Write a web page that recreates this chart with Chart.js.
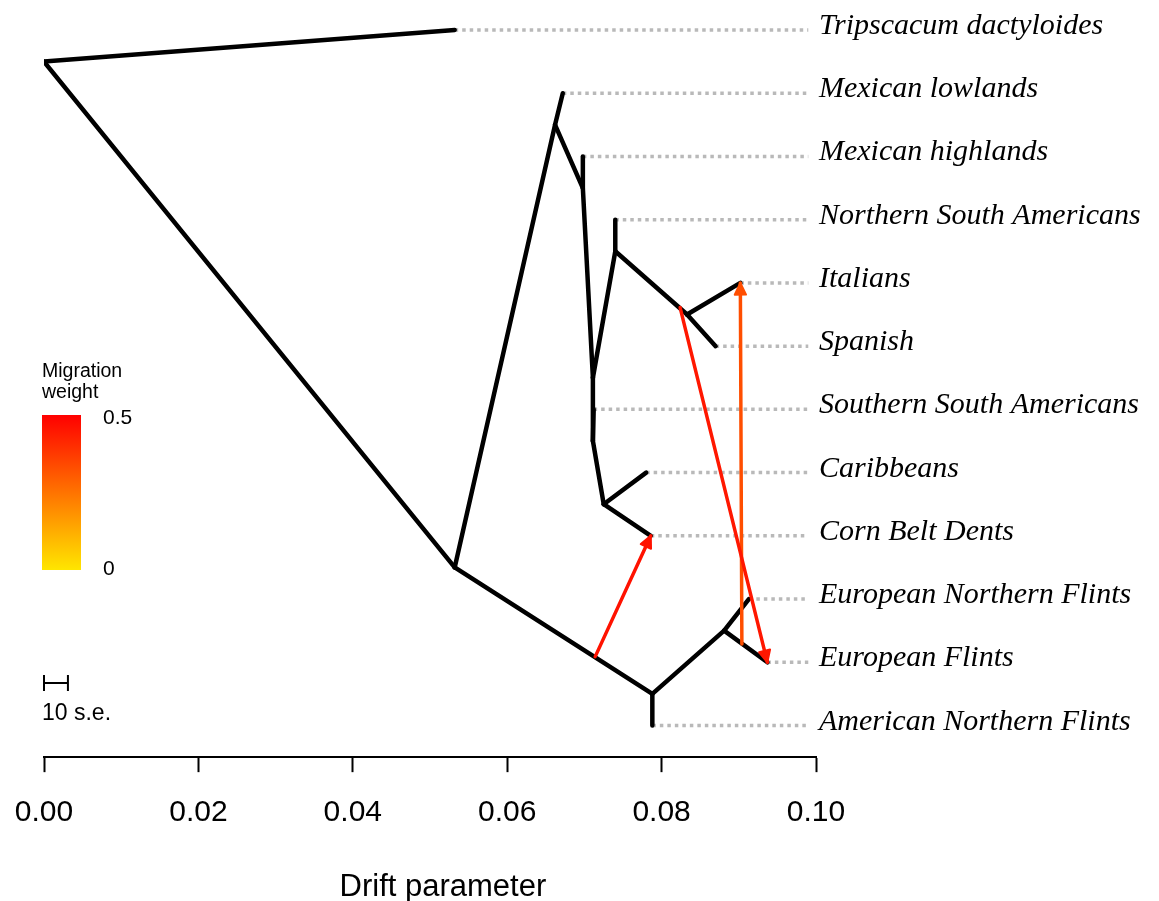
<!DOCTYPE html>
<html>
<head>
<meta charset="utf-8">
<script src="https://cdn.jsdelivr.net/npm/chart.js@4.4.0/dist/chart.umd.min.js"></script>
<style>
  html, body { margin: 0; padding: 0; background: #fff; }
  #wrap { width: 1159px; height: 901px; position: relative; }
</style>
</head>
<body>
<div id="wrap"><canvas id="treeChart"></canvas></div>
<script>
// leaves, top to bottom (row = vertical slot)
const leafNames = [
  "Tripscacum dactyloides", "Mexican lowlands", "Mexican highlands",
  "Northern South Americans", "Italians", "Spanish",
  "Southern South Americans", "Caribbeans", "Corn Belt Dents",
  "European Northern Flints", "European Flints", "American Northern Flints"
];
const leafDrift = [0.0532, 0.0672, 0.0698, 0.0740, 0.0902, 0.0870,
                   0.0712, 0.0780, 0.0786, 0.0913, 0.0937, 0.0788];
const leafRow = [0, 1, 2, 3, 4, 5, 6, 7, 8, 9, 10, 11];

// internal nodes
const nodeNames = ["root", "n1", "n2", "n3", "n4", "n5", "n6", "n7", "n8", "n9", "n10"];
const nodeDrift = [0.0, 0.0532, 0.0662, 0.0698, 0.0711, 0.0740, 0.0833, 0.0711, 0.0725, 0.0788, 0.0881];
const nodeRow = [0.5, 8.5, 1.5, 2.5, 5.5, 3.5, 4.5, 6.5, 7.5, 10.5, 9.5];

// tree branches, parent -> child
const edgeFrom = ["root", "root", "n1", "n2", "n2", "n3", "n3", "n4", "n5", "n5", "n6", "n6",
                  "n4", "n7", "n7", "n8", "n8", "n1", "n9", "n9", "n10", "n10"];
const edgeTo = ["Tripscacum dactyloides", "n1", "n2", "Mexican lowlands", "n3", "Mexican highlands",
                "n4", "n5", "Northern South Americans", "n6", "Italians", "Spanish",
                "n7", "Southern South Americans", "n8", "Caribbeans", "Corn Belt Dents",
                "n9", "American Northern Flints", "n10", "European Northern Flints", "European Flints"];

// migration edges: start on a branch, end at a leaf
const migFromDrift = [0.0714, 0.0824, 0.0904];
const migFromRow = [9.91, 4.39, 9.71];
const migToLeaf = ["Corn Belt Dents", "European Flints", "Italians"];
const migWeight = [0.46, 0.45, 0.33];

const xTickValues = [0, 0.02, 0.04, 0.06, 0.08, 0.10];
const labelEnd = 0.099;

function pos(name) {
  let i = leafNames.indexOf(name);
  if (i >= 0) return { x: leafDrift[i], y: leafRow[i] };
  i = nodeNames.indexOf(name);
  return { x: nodeDrift[i], y: nodeRow[i] };
}

function heat(w) {
  const t = Math.max(0, Math.min(1, w / 0.5));
  return `rgb(255, ${Math.round(230 * (1 - t))}, 0)`;
}

const datasets = [];

// migrations first so they sit on top
migToLeaf.forEach((leaf, i) => {
  const to = pos(leaf);
  datasets.push({
    data: [{ x: migFromDrift[i], y: migFromRow[i] }, to],
    borderColor: heat(migWeight[i]),
    borderWidth: 3.5,
    borderCapStyle: "round"
  });
});

edgeFrom.forEach((p, i) => {
  datasets.push({
    data: [pos(p), pos(edgeTo[i])],
    borderColor: "#000",
    borderWidth: 4.5,
    borderCapStyle: "round",
    borderJoinStyle: "round"
  });
});

leafNames.forEach((name, i) => {
  datasets.push({
    data: [{ x: leafDrift[i], y: leafRow[i] }, { x: labelEnd, y: leafRow[i] }],
    borderColor: "#b9b9b9",
    borderWidth: 3.5,
    borderDash: [3.5, 4]
  });
});

const decorPlugin = {
  id: "decor",
  afterDatasetsDraw(chart) {
    const { ctx, chartArea, scales } = chart;
    const xs = scales.x, ys = scales.y;
    ctx.save();

    // arrow heads
    migToLeaf.forEach((leaf, i) => {
      const to = pos(leaf);
      const x1 = xs.getPixelForValue(migFromDrift[i]), y1 = ys.getPixelForValue(migFromRow[i]);
      const x2 = xs.getPixelForValue(to.x), y2 = ys.getPixelForValue(to.y);
      const a = Math.atan2(y2 - y1, x2 - x1);
      const len = 13, half = Math.PI / 7;
      ctx.fillStyle = heat(migWeight[i]);
      ctx.strokeStyle = heat(migWeight[i]);
      ctx.lineWidth = 2;
      ctx.lineJoin = "round";
      ctx.beginPath();
      ctx.moveTo(x2, y2);
      ctx.lineTo(x2 - len * Math.cos(a - half), y2 - len * Math.sin(a - half));
      ctx.lineTo(x2 - len * Math.cos(a + half), y2 - len * Math.sin(a + half));
      ctx.closePath();
      ctx.fill();
      ctx.stroke();
    });

    // leaf names
    ctx.fillStyle = "#000";
    ctx.font = "italic 30px 'Liberation Serif', 'Times New Roman', serif";
    ctx.textAlign = "left";
    ctx.textBaseline = "alphabetic";
    leafNames.forEach((name, i) => {
      ctx.fillText(name, chartArea.right + 3, ys.getPixelForValue(leafRow[i]) + 4);
    });

    // migration weight legend
    ctx.font = "19.5px 'Liberation Sans', Arial, sans-serif";
    ctx.fillText("Migration", 42, 377);
    ctx.fillText("weight", 42, 398);
    const g = ctx.createLinearGradient(0, 415, 0, 570);
    g.addColorStop(0, heat(0.5));
    g.addColorStop(1, heat(0));
    ctx.fillStyle = g;
    ctx.fillRect(42, 415, 39, 155);
    ctx.fillStyle = "#000";
    ctx.font = "21px 'Liberation Sans', Arial, sans-serif";
    ctx.textBaseline = "middle";
    ctx.fillText("0.5", 103, 418);
    ctx.fillText("0", 103, 569);

    // scale bar: 10 s.e.
    const sx0 = xs.getPixelForValue(0), sx1 = xs.getPixelForValue(0.0031);
    ctx.strokeStyle = "#000";
    ctx.lineWidth = 2;
    ctx.beginPath();
    ctx.moveTo(sx0, 683); ctx.lineTo(sx1, 683);
    ctx.moveTo(sx0, 675); ctx.lineTo(sx0, 691);
    ctx.moveTo(sx1, 675); ctx.lineTo(sx1, 691);
    ctx.stroke();
    ctx.font = "23px 'Liberation Sans', Arial, sans-serif";
    ctx.textBaseline = "alphabetic";
    ctx.fillText("10 s.e.", 42, 720);

    ctx.restore();
  }
};

new Chart(document.getElementById("treeChart"), {
  type: "scatter",
  data: { datasets },
  plugins: [decorPlugin],
  options: {
    responsive: true,
    maintainAspectRatio: false,
    animation: false,
    showLine: true,
    elements: { point: { radius: 0, hoverRadius: 0 } },
    layout: { padding: { left: 44, right: 343, top: 11, bottom: 0 } },
    plugins: { legend: { display: false }, tooltip: { enabled: false } },
    scales: {
      x: {
        type: "linear",
        min: 0,
        max: 0.1,
        afterBuildTicks: (axis) => { axis.ticks = xTickValues.map(v => ({ value: v })); },
        ticks: {
          autoSkip: false,
          maxRotation: 0,
          padding: 11,
          color: "#000",
          font: { size: 30, lineHeight: 2.0, family: "'Liberation Sans', Arial, sans-serif" },
          callback: (v) => Number(v).toFixed(2)
        },
        grid: { drawOnChartArea: false, drawTicks: true, tickLength: 15, tickColor: "#000", tickWidth: 2 },
        border: { display: true, color: "#000", width: 2 },
        title: {
          display: true,
          text: "   Drift parameter",
          color: "#000",
          font: { size: 31, lineHeight: 0.85, family: "'Liberation Sans', Arial, sans-serif" },
          padding: { top: 20.5, bottom: 0 }
        }
      },
      y: {
        type: "linear",
        display: false,
        reverse: true,
        min: -0.3,
        max: 11.5
      }
    }
  }
});
</script>
</body>
</html>
